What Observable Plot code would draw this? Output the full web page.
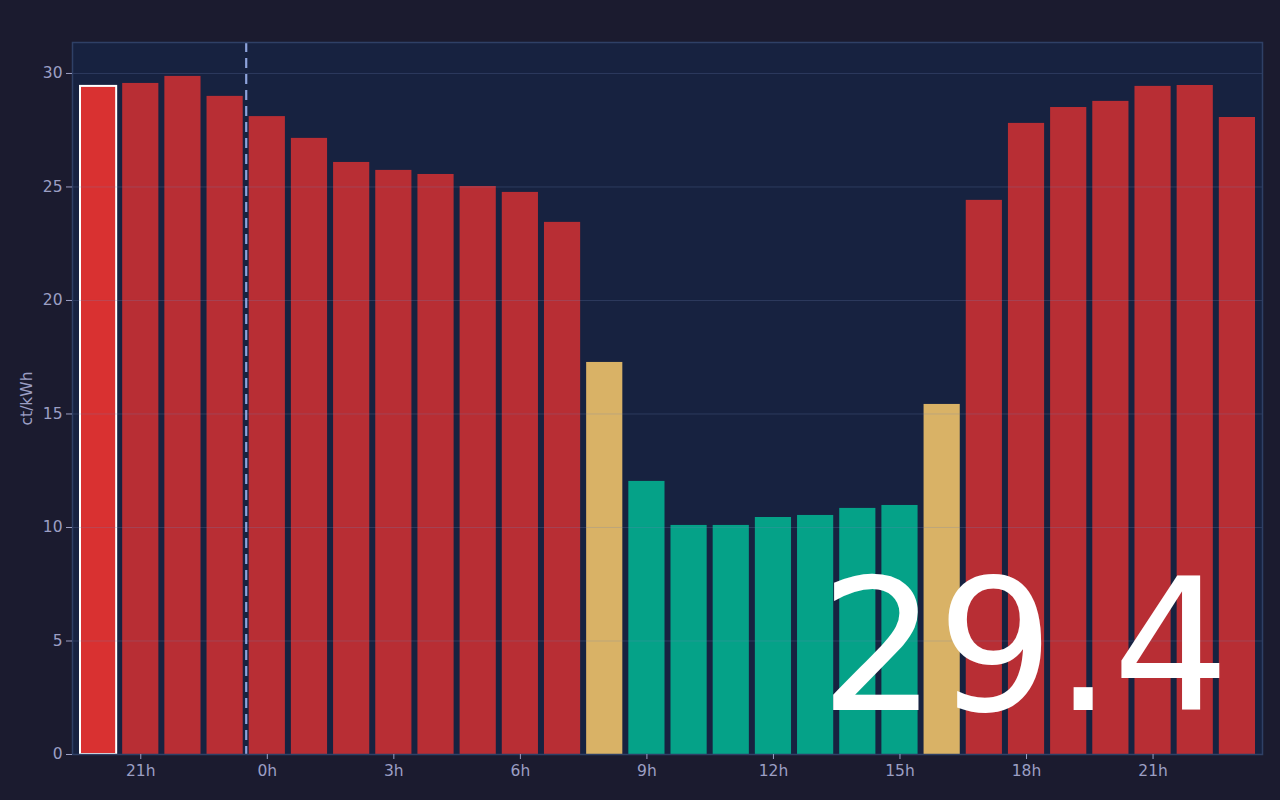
<!DOCTYPE html>
<html><head><meta charset="utf-8">
<script src="https://cdn.jsdelivr.net/npm/d3@7"></script>
<script src="https://cdn.jsdelivr.net/npm/@observablehq/plot@0.6"></script>
<style>
html,body{margin:0;padding:0;background:#1b1b2f;overflow:hidden;}
#chart{width:1280px;height:800px;}
</style></head><body><div id="chart"></div>
<script>
const hours = [20,21,22,23,0,1,2,3,4,5,6,7,8,9,10,11,12,13,14,15,16,17,18,19,20,21,22,23];
const prices = [29.43,29.56,29.87,28.99,28.1,27.14,26.08,25.73,25.55,25.02,24.76,23.44,17.27,12.03,10.09,10.09,10.44,10.53,10.84,10.97,15.42,24.41,27.8,28.5,28.77,29.43,29.47,28.06];
const levels = ["high","high","high","high","high","high","high","high","high","high","high","high","mid","low","low","low","low","low","low","low","mid","high","high","high","high","high","high","high"];
const levelNames = ["high","mid","low"];
const levelColors = ["#b82e34","#d9b266","#05a288"];
const yTicks = [0,5,10,15,20,25,30];
const unitLabel = "ct/kWh";
const currentIndex = 0;
const dayBreakIndex = 4;

const data = prices.map((p,i)=>({i, hour:hours[i], price:p, level:levels[i]}));
const tickPositions = data.filter(d=>d.hour%3===0).map(d=>d.i+0.5);
const tickFormat = v => hours[Math.floor(v)] + "h";

const chart = Plot.plot({
  width:1280, height:800,
  marginTop:42, marginRight:18, marginBottom:46, marginLeft:72,
  style:{background:"transparent", color:"#9c9fc4", fontFamily:"DejaVu Sans, sans-serif", fontSize:"15px"},
  x:{domain:[0,prices.length], insetLeft:5, insetRight:4},
  y:{domain:[0, d3.max(prices)*1.05]},
  color:{domain:levelNames, range:levelColors},
  marks:[
    Plot.frame({fill:"#172240", stroke:"none"}),
    Plot.rectY(data.filter(d=>d.i!==currentIndex), {x1:"i", x2:d=>d.i+1, y:"price", fill:"level", insetLeft:3, insetRight:3}),
    Plot.rectY(data.filter(d=>d.i===currentIndex), {x1:"i", x2:d=>d.i+1, y:"price", fill:"#d93131", stroke:"white", strokeWidth:2, insetLeft:3, insetRight:3}),
    Plot.gridY(yTicks, {stroke:"#6f84b8", strokeOpacity:0.25}),
    Plot.ruleX([dayBreakIndex], {stroke:"#8ea3dc", strokeWidth:2.2, strokeDasharray:"10,6"}),
    Plot.frame({stroke:"#2f4066", strokeWidth:1.5}),
    Plot.axisY(yTicks, {label:unitLabel, labelAnchor:"center", labelArrow:"none", labelOffset:52, tickSize:6, tickPadding:4, fontSize:15.5}),
    Plot.axisX(tickPositions, {tickFormat, label:null, tickSize:5, tickPadding:5, fontSize:15.5}),
    Plot.text([prices[currentIndex].toFixed(1)], {text:d=>d, frameAnchor:"bottom-right", textAnchor:"end", lineAnchor:"bottom", dx:-33, dy:-45, fontSize:184, fill:"white"})
  ]
});
document.getElementById("chart").appendChild(chart);
</script></body></html>
